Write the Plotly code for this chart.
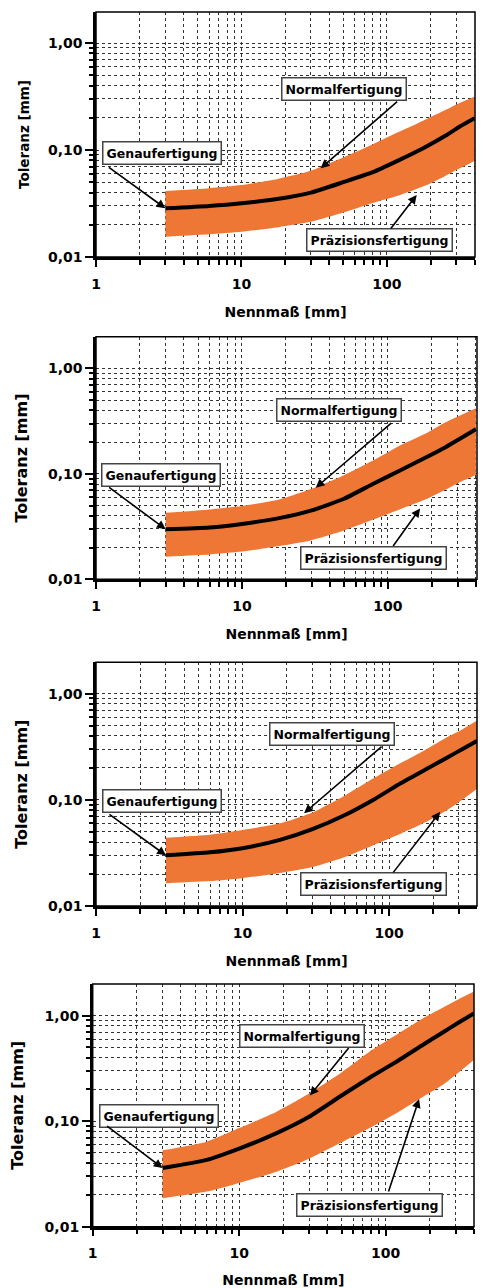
import numpy as np
import plotly.graph_objects as go

# ---------------- data ----------------
nennmass = [3, 6, 10, 18, 30, 50, 80, 120, 180, 250, 315, 400]

mitte_1 = [0.0285, 0.030, 0.0318, 0.035, 0.040, 0.050, 0.062, 0.080, 0.105, 0.135, 0.165, 0.198]
ober_1 = [0.0414, 0.044, 0.047, 0.054, 0.064, 0.085, 0.113, 0.147, 0.19, 0.235, 0.275, 0.315]
unter_1 = [0.0155, 0.0163, 0.0172, 0.019, 0.0213, 0.026, 0.032, 0.0375, 0.046, 0.057, 0.067, 0.079]

mitte_2 = [0.0298, 0.031, 0.0335, 0.038, 0.045, 0.058, 0.081, 0.107, 0.142, 0.18, 0.217, 0.265]
ober_2 = [0.0428, 0.046, 0.0495, 0.057, 0.072, 0.097, 0.135, 0.185, 0.24, 0.31, 0.36, 0.418]
unter_2 = [0.0164, 0.0172, 0.0183, 0.0207, 0.0235, 0.029, 0.037, 0.046, 0.057, 0.071, 0.084, 0.0975]

mitte_3 = [0.030, 0.032, 0.035, 0.042, 0.053, 0.072, 0.102, 0.143, 0.195, 0.25, 0.30, 0.36]
ober_3 = [0.044, 0.047, 0.052, 0.060, 0.076, 0.11, 0.162, 0.222, 0.30, 0.39, 0.46, 0.56]
unter_3 = [0.0164, 0.0172, 0.0183, 0.0205, 0.0233, 0.029, 0.038, 0.048, 0.062, 0.08, 0.10, 0.128]

mitte_4 = [0.036, 0.043, 0.055, 0.077, 0.11, 0.175, 0.265, 0.37, 0.53, 0.705, 0.86, 1.05]
ober_4 = [0.053, 0.064, 0.086, 0.123, 0.183, 0.29, 0.47, 0.667, 0.947, 1.21, 1.43, 1.69]
unter_4 = [0.0186, 0.0215, 0.026, 0.0332, 0.044, 0.063, 0.088, 0.12, 0.17, 0.225, 0.29, 0.38]

x_tickvals = [1, 10, 100]
x_ticktext = ["1", "10", "100"]
y_tickvals = [0.01, 0.1, 1]
y_ticktext = ["0,01", "0,10", "1,00"]
x_minor = [2, 3, 4, 5, 6, 7, 8, 9, 20, 30, 40, 50, 60, 70, 80, 90, 200, 300, 400]
y_minor = [0.02, 0.03, 0.04, 0.05, 0.06, 0.07, 0.08, 0.09,
           0.2, 0.3, 0.4, 0.5, 0.6, 0.7, 0.8, 0.9, 2]

label_genau = "Genaufertigung"
label_normal = "Normalfertigung"
label_praez = "Präzisionsfertigung"
x_title = "Nennmaß [mm]"
y_title = "Toleranz [mm]"

panels = [
    dict(mitte=mitte_1, ober=ober_1, unter=unter_1),
    dict(mitte=mitte_2, ober=ober_2, unter=unter_2),
    dict(mitte=mitte_3, ober=ober_3, unter=unter_3),
    dict(mitte=mitte_4, ober=ober_4, unter=unter_4),
]

# ---------------- layout (positions / styles) ----------------
W, H = 484, 1288
x_domains = [(96, 475), (96, 477), (96, 477), (92.7, 474)]
y_domains = [(12, 257), (336.7, 579.3), (662.3, 906), (984, 1226.7)]
x_ranges = [2.605, 2.61, 2.60, 2.603]
y_tops = [0.29, 0.30, 0.295, 0.30]
y_title_sizes = [13.5, 16, 16, 16]
y_title_standoff = [16, 17, 17, 17]
x_title_standoff = [17, 17, 17, 17]

# annotation boxes (value coordinates) and arrows (head value coords, tail pixel offsets)
boxes = [
    [(2.82, 0.0937), (50.6, 0.371), (88.5, 0.0143)],
    [(2.78, 0.0968), (46, 0.407), (80, 0.0159)],
    [(2.81, 0.098), (41.1, 0.414), (78.8, 0.016)],
    [(2.84, 0.113), (26.9, 0.64), (78.1, 0.016)],
]
arrows = [
    [(-58, -42), ((35, 0.0675), (78, -68)), ((160, 0.038), (-27, 35))],
    [(-58, -43), ((32, 0.0738), (77, -66)), ((166, 0.047), (-28, 39))],
    [(-58, -42), ((26.3, 0.0747), (79, -68)), ((223, 0.077), (-48, 62))],
    [(-57, -43), ((30.4, 0.175), (40, -49)), ((169, 0.162), (-31, 94))],
]

ORANGE = "#EE7736"
FONT = "DejaVu Sans"
GRID = "#333333"

fig = go.Figure()
layout = dict(width=W, height=H, margin=dict(l=0, r=0, t=0, b=0, autoexpand=False),
              paper_bgcolor="white", plot_bgcolor="white", showlegend=False,
              font=dict(family=FONT, color="black"))
annotations = []
shapes = []

for i, p in enumerate(panels):
    n = i + 1
    xa = "x" if n == 1 else f"x{n}"
    ya = "y" if n == 1 else f"y{n}"
    fig.add_trace(go.Scatter(x=nennmass, y=p["unter"], mode="lines",
                             line=dict(width=0, color=ORANGE, shape="spline", smoothing=0.6),
                             xaxis=xa, yaxis=ya, hoverinfo="skip"))
    fig.add_trace(go.Scatter(x=nennmass, y=p["ober"], mode="lines", fill="tonexty",
                             fillcolor=ORANGE,
                             line=dict(width=0, color=ORANGE, shape="spline", smoothing=0.6),
                             xaxis=xa, yaxis=ya, hoverinfo="skip"))
    fig.add_trace(go.Scatter(x=nennmass, y=p["mitte"], mode="lines",
                             line=dict(width=4, color="black", shape="spline", smoothing=0.5),
                             xaxis=xa, yaxis=ya))

    xd = x_domains[i]
    yd = y_domains[i]
    xkey = "xaxis" if n == 1 else f"xaxis{n}"
    ykey = "yaxis" if n == 1 else f"yaxis{n}"
    layout[xkey] = dict(
        type="log", domain=[xd[0] / W, xd[1] / W], range=[0, x_ranges[i]],
        anchor=ya, tickmode="array", tickvals=x_tickvals, ticktext=x_ticktext,
        ticks="outside", ticklen=7, tickwidth=2, tickcolor="black",
        showline=True, linewidth=2.5, linecolor="black", ticklabelstandoff=5,
        showgrid=True, gridcolor=GRID, griddash="dot", gridwidth=1,
        minor=dict(tickmode="array", tickvals=x_minor, ticks="outside", ticklen=5,
                   tickwidth=1.5, tickcolor="black", showgrid=True,
                   gridcolor=GRID, griddash="dot", gridwidth=1),
        tickfont=dict(family=FONT, size=14, weight="bold"),
        title=dict(text=x_title, font=dict(family=FONT, size=14, weight="bold"),
                   standoff=x_title_standoff[i]),
        automargin=False, zeroline=False, fixedrange=True,
    )
    layout[ykey] = dict(
        type="log", domain=[1 - yd[1] / H, 1 - yd[0] / H], range=[-2, y_tops[i]],
        anchor=xa, tickmode="array", tickvals=y_tickvals, ticktext=y_ticktext,
        ticks="outside", ticklen=8, tickwidth=2, tickcolor="black",
        showline=True, linewidth=2.5, linecolor="black",
        showgrid=True, gridcolor=GRID, griddash="dot", gridwidth=1,
        minor=dict(tickmode="array", tickvals=y_minor, ticks="outside", ticklen=4,
                   tickwidth=1.5, tickcolor="black", showgrid=True,
                   gridcolor=GRID, griddash="dot", gridwidth=1),
        tickfont=dict(family=FONT, size=14, weight="bold"),
        title=dict(text=y_title, font=dict(family=FONT, size=y_title_sizes[i], weight="bold"),
                   standoff=y_title_standoff[i]),
        automargin=False, zeroline=False, fixedrange=True,
    )
    shapes.append(dict(type="rect", xref=f"{xa} domain", yref=f"{ya} domain",
                       x0=0, x1=1, y0=0, y1=1, line=dict(color="black", width=1.5),
                       layer="above"))

    # text boxes
    for (bx, by), txt in zip(boxes[i], [label_genau, label_normal, label_praez]):
        annotations.append(dict(
            x=np.log10(bx), y=np.log10(by), xref=xa, yref=ya, text=txt,
            showarrow=False, bgcolor="white", bordercolor="#444444", borderwidth=1.5,
            borderpad=3, font=dict(family=FONT, size=12.5, color="black", weight="bold"),
            xanchor="center", yanchor="middle"))
    # arrows
    g_off, (n_head, n_off), (p_head, p_off) = arrows[i]
    heads = [((nennmass[0], p["mitte"][0]), g_off), (n_head, n_off), (p_head, p_off)]
    for (hx, hy), (ox, oy) in heads:
        annotations.append(dict(
            x=np.log10(hx), y=np.log10(hy), xref=xa, yref=ya, text="",
            showarrow=True, ax=ox, ay=oy, axref="pixel", ayref="pixel",
            arrowhead=2, arrowsize=1.1, arrowwidth=1.6, arrowcolor="black",
            standoff=0, startstandoff=0))

layout["annotations"] = annotations
layout["shapes"] = shapes
fig.update_layout(**layout)
fig.write_html("out.html", config={"displayModeBar": False},
               post_script="document.body.style.margin='0';document.body.style.padding='0';")
